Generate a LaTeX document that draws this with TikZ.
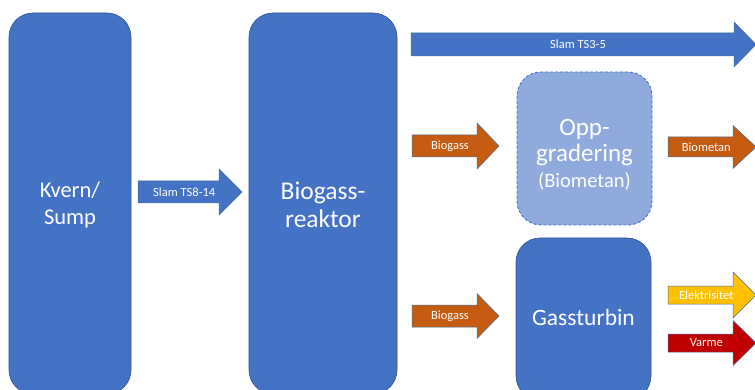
\documentclass[tikz,border=0pt]{standalone}
\usepackage{fontspec}
\setmainfont{Carlito}
\definecolor{boxblue}{HTML}{4472C4}
\definecolor{boxedge}{HTML}{2F528F}
\definecolor{lightblue}{HTML}{8FAADC}
\definecolor{gasorange}{HTML}{C55A11}
\definecolor{elyellow}{HTML}{FFC000}
\definecolor{heatred}{HTML}{C00000}
\definecolor{arrowedge}{HTML}{41719C}
\tikzset{
  procbox/.style={fill=boxblue, draw=boxedge, line width=0.6pt, rounded corners=24pt},
  optbox/.style={fill=lightblue, draw=boxblue, line width=0.9pt, dashed, dash pattern=on 3pt off 2pt, rounded corners=24pt},
  bigtext/.style={text=white, align=center},
  arrowfill/.style={draw=arrowedge, line width=0.5pt},
  arrowtext/.style={text=white, font=\fontsize{12.5}{14}\selectfont, inner sep=0pt}
}
% name, colour, x start, head start, tip, y centre, shaft half width, head half width, text
\newcommand{\flowarrow}[9]{%
  \fill[#2, arrowfill] ({#3},{#6-#7}) -- ({#4},{#6-#7}) -- ({#4},{#6-#8}) -- ({#5},{#6}) -- ({#4},{#6+#8}) -- ({#4},{#6+#7}) -- ({#3},{#6+#7}) -- cycle;
  \node[arrowtext] (#1) at ({(#3+#4)/2+(#5-#4)/4},{#6}) {#9};
}
\begin{document}
\begin{tikzpicture}[x=1pt,y=-1pt]
\useasboundingbox (0,0) rectangle (755,390);
\clip (0,0) rectangle (755,390);
% boxes
\draw[procbox] (9,13) rectangle (131,394);
\node[bigtext, font=\fontsize{22.5}{27}\selectfont] (kvern) at (70,205) {Kvern/\\Sump};
\draw[procbox] (249,13) rectangle (397,394);
\node[bigtext, font=\fontsize{25.5}{28}\selectfont] (reaktor) at (323,205) {Biogass-\\reaktor};
\draw[optbox] (517,72) rectangle (652,225);
\node[bigtext, font=\fontsize{25}{26}\selectfont] (oppg) at (584.5,155) {Opp-\\gradering\\{\fontsize{20.5}{26}\selectfont (Biometan)}};
\draw[procbox] (516,238) rectangle (651,400);
\node[bigtext, font=\fontsize{23.5}{27}\selectfont] (turbin) at (583.5,317) {Gassturbin};
% arrows
\flowarrow{a1}{boxblue}{138}{219}{242}{192}{11}{23}{Slam TS8-14}
\flowarrow{a2}{boxblue}{411}{734}{756}{44.5}{11.5}{22.5}{Slam TS3-5}
\flowarrow{a3}{gasorange}{412}{477}{499}{146}{11}{23}{Biogass}
\flowarrow{a4}{gasorange}{412}{477}{499}{316}{11}{22.5}{Biogass}
\flowarrow{a5}{gasorange}{668}{733}{756}{147}{10}{21.5}{Biometan}
\flowarrow{a6}{elyellow}{668}{733}{756}{295}{9}{23}{Elektrisitet}
\flowarrow{a7}{heatred}{668}{733}{756}{343}{9}{22.5}{Varme}
\end{tikzpicture}
\end{document}
